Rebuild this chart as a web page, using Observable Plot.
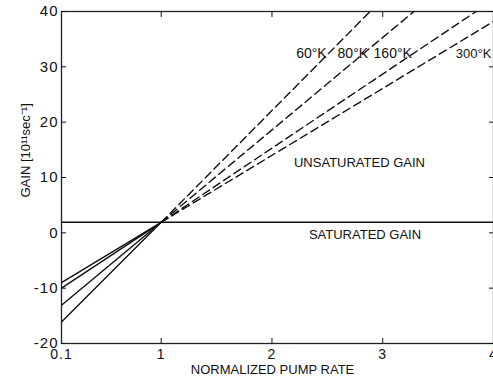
<!DOCTYPE html>
<html>
<head>
<meta charset="utf-8">
<script src="https://cdn.jsdelivr.net/npm/d3@7"></script>
<script src="https://cdn.jsdelivr.net/npm/@observablehq/plot@0.6"></script>
<style>
  html, body { margin: 0; padding: 0; background: #fff; overflow: hidden; }
  #chart svg { display: block; }
  #chart g[aria-label="y-axis tick label"] text,
  #chart g[aria-label="x-axis tick label"] text { letter-spacing: 1px; }
</style>
</head>
<body>
<div id="chart"></div>
<script>
// Gain vs. normalized pump rate for four lattice temperatures
const temperatures = ["60°K", "80°K", "160°K", "300°K"];
const pumpRate = [0.1, 1, 4];
// gain (10^11 sec^-1) at each pump rate, one list per temperature
const gain60 = [-16.1, 1.9, 62.5];
const gain80 = [-13.1, 1.9, 52.0];
const gain160 = [-10.0, 1.9, 42.1];
const gain300 = [-9.0, 1.9, 38.2];
const saturatedGain = 1.9;
const xTicks = [0.1, 1, 2, 3, 4];
const yTicks = [-20, -10, 0, 10, 20, 30, 40];

const series = [gain60, gain80, gain160, gain300];
// below threshold (rate < 1) drawn solid, above threshold dashed
const below = [], above = [];
temperatures.forEach((t, i) => {
  pumpRate.forEach((r, j) => {
    const row = {temp: t, rate: r, gain: series[i][j]};
    if (r <= 1) below.push(row);
    if (r >= 1) above.push(row);
  });
});
const saturated = pumpRate.map(r => ({rate: r, gain: saturatedGain}));

const font = "Liberation Sans, Arial, sans-serif";

const chart = Plot.plot({
  width: 493,
  height: 381,
  marginLeft: 61,
  marginRight: 0,
  marginTop: 11,
  marginBottom: 38,
  style: {fontFamily: font, fontSize: "13px", color: "#111", background: "#fff"},
  x: {domain: [0.1, 4]},
  y: {domain: [-20, 40]},
  marks: [
    Plot.frame({stroke: "#222", strokeWidth: 1.3}),
    // tick labels
    Plot.axisY({ticks: yTicks, tickSize: 0, tickPadding: 3, fontSize: 15, label: null,
      tickFormat: d => String(d)}),
    Plot.axisX({ticks: xTicks, tickSize: 0, tickPadding: 6, fontSize: 14, label: null,
      tickFormat: d => d === 0.1 ? "0.1" : String(d)}),
    // inward tick marks on all four sides
    Plot.axisY({ticks: yTicks, tickSize: -5, fill: "none", label: null}),
    Plot.axisY({anchor: "right", ticks: yTicks, tickSize: -5, fill: "none", label: null}),
    Plot.axisX({ticks: [1, 2, 3], tickSize: -5, fill: "none", label: null}),
    Plot.axisX({anchor: "top", ticks: [1, 2, 3], tickSize: -5, fill: "none", label: null}),
    // saturated gain
    Plot.line(saturated, {x: "rate", y: "gain", stroke: "#111", strokeWidth: 1.5}),
    // unsaturated gain curves
    Plot.line(below, {x: "rate", y: "gain", z: "temp", stroke: "#111", strokeWidth: 1.4, clip: true}),
    Plot.line(above, {x: "rate", y: "gain", z: "temp", stroke: "#111", strokeWidth: 1.4,
      strokeDasharray: "8,4.5", clip: true}),
    // curve labels
    Plot.text([temperatures[0]], {x: 2.356, y: 32.4, text: d => d, fontSize: 14}),
    Plot.text([temperatures[1]], {x: 2.73, y: 32.4, text: d => d, fontSize: 14}),
    Plot.text([temperatures[2]], {x: 3.09, y: 32.4, text: d => d, fontSize: 14}),
    Plot.text([temperatures[3]], {x: 3.66, y: 32.4, text: d => d, fontSize: 13, textAnchor: "start"}),
    Plot.text(["UNSATURATED GAIN"], {x: 2.79, y: 12.6, text: d => d, fontSize: 13}),
    Plot.text(["SATURATED GAIN"], {x: 2.84, y: -0.3, text: d => d, fontSize: 13}),
    // axis titles
    Plot.text(["GAIN [10¹¹sec⁻¹]"], {frameAnchor: "left", dx: -36, dy: 20, rotate: -90, text: d => d, fontSize: 13}),
    Plot.text(["NORMALIZED PUMP RATE"], {frameAnchor: "bottom", dx: -5, dy: 30, text: d => d, fontSize: 13})
  ]
});
document.getElementById("chart").append(chart);
</script>
</body>
</html>
